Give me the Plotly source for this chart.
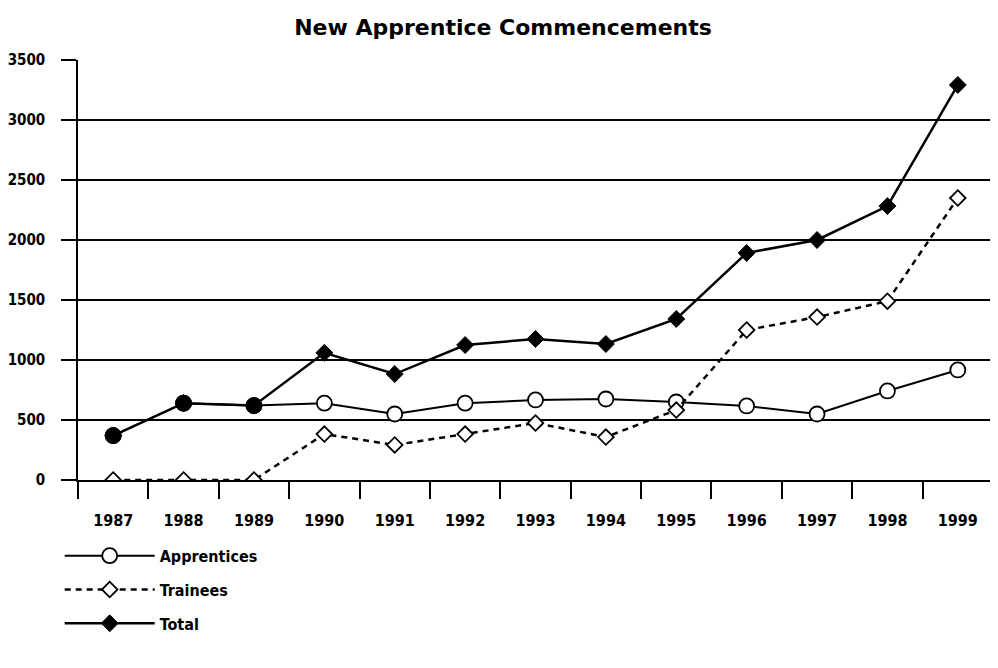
import plotly.graph_objects as go

years = ["1987", "1988", "1989", "1990", "1991", "1992", "1993",
         "1994", "1995", "1996", "1997", "1998", "1999"]
apprentices = [370, 640, 620, 640, 550, 640, 667, 675, 650, 617, 550, 742, 917]
trainees = [0, 0, 0, 383, 292, 383, 475, 358, 583, 1250, 1358, 1490, 2350]
total = [370, 640, 620, 1060, 883, 1125, 1175, 1133, 1342, 1892, 2000, 2283, 3292]
# years where apprentices equal the total (drawn with filled circles)
n_equal = 3

FONT = "DejaVu Sans Condensed"

fig = go.Figure()

fig.add_trace(go.Scatter(
    x=years, y=apprentices, name="Apprentices", mode="lines+markers",
    legendgroup="a",
    line=dict(color="black", width=2),
    marker=dict(symbol="circle", size=15, color="white",
                line=dict(color="black", width=1.8)),
))
fig.add_trace(go.Scatter(
    x=years, y=trainees, name="Trainees", mode="lines+markers",
    legendgroup="b",
    line=dict(color="black", width=2.5, dash="6px,5px"),
    marker=dict(symbol="diamond", size=12, color="white",
                line=dict(color="black", width=1.8)),
))
fig.add_trace(go.Scatter(
    x=years, y=total, name="Total", mode="lines+markers",
    legendgroup="c",
    line=dict(color="black", width=2.5),
    marker=dict(symbol="diamond", size=13, color="black",
                line=dict(color="black", width=1)),
))
fig.add_trace(go.Scatter(
    x=years[:n_equal], y=apprentices[:n_equal], mode="markers",
    showlegend=False, hoverinfo="skip",
    marker=dict(symbol="circle", size=16, color="black",
                line=dict(color="black", width=1)),
))

fig.update_layout(
    width=990, height=660,
    paper_bgcolor="white", plot_bgcolor="white",
    margin=dict(l=70, r=5, t=52, b=188, autoexpand=False),
    title=dict(text="<b>New Apprentice Commencements</b>", x=0.5, xanchor="center",
               y=0.971, yanchor="middle",
               font=dict(family="DejaVu Sans", size=22, color="black")),
    font=dict(family=FONT, color="black"),
    showlegend=True,
    legend=dict(x=-0.02, y=-0.14, xanchor="left", yanchor="top",
                orientation="v", traceorder="grouped",
                font=dict(family=FONT, size=16, color="black", weight="bold"),
                itemwidth=90, tracegroupgap=10, bgcolor="rgba(0,0,0,0)"),
    xaxis=dict(
        type="category", range=[-0.5, 12.5], showgrid=False,
        showline=True, linecolor="black", linewidth=1.5,
        ticks="outside", tickson="boundaries", ticklen=17, tickwidth=1.5,
        tickcolor="black", ticklabelstandoff=25,
        tickfont=dict(family=FONT, size=16, color="black", weight="bold"),
        zeroline=False,
    ),
    yaxis=dict(
        range=[0, 3500], tickvals=[0, 500, 1000, 1500, 2000, 2500, 3000, 3500],
        showgrid=True, gridcolor="black", gridwidth=1.5,
        showline=True, linecolor="black", linewidth=1.5,
        ticks="outside", ticklen=15, tickwidth=1.5, tickcolor="black",
        ticklabelstandoff=13,
        tickfont=dict(family=FONT, size=15, color="black", weight="bold"),
        zeroline=False,
    ),
)

fig.write_html("out.html")
